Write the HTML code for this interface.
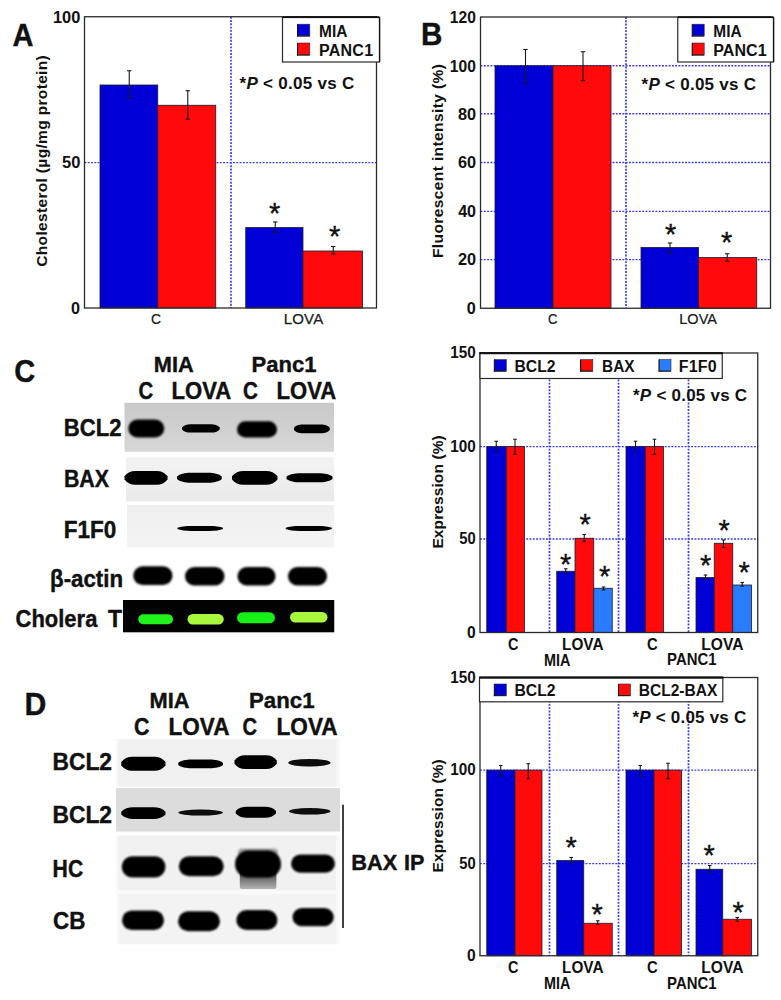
<!DOCTYPE html>
<html><head><meta charset="utf-8"><title>Figure</title>
<style>
html,body{margin:0;padding:0;background:#fff;}
body{width:781px;height:1000px;overflow:hidden;font-family:"Liberation Sans",sans-serif;}
svg{display:block;font-family:"Liberation Sans",sans-serif;}
svg text{font-family:"Liberation Sans",sans-serif;}
</style></head><body>
<svg width="781" height="1000" viewBox="0 0 781 1000">
<defs>
<filter id="b1" x="-20%" y="-50%" width="140%" height="200%"><feGaussianBlur stdDeviation="0.7"/></filter>
<filter id="b2" x="-20%" y="-50%" width="140%" height="200%"><feGaussianBlur stdDeviation="0.95"/></filter>
<filter id="b3" x="-30%" y="-50%" width="160%" height="200%"><feGaussianBlur stdDeviation="3"/></filter>
<filter id="b0" x="-20%" y="-50%" width="140%" height="200%"><feGaussianBlur stdDeviation="0.6"/></filter>
</defs>
<rect x="0" y="0" width="781" height="1000" fill="#ffffff"/>
<rect x="84.50" y="16.75" width="292.00" height="291.25" fill="#fff"/>
<line x1="84.50" y1="162.60" x2="376.50" y2="162.60" stroke="#3a3af0" stroke-width="1.35" stroke-dasharray="1.9 1.4"/>
<line x1="231.00" y1="16.75" x2="231.00" y2="308.00" stroke="#3a3af0" stroke-width="1.7" stroke-dasharray="1.9 1.4"/>
<rect x="100.00" y="85.00" width="57.75" height="223.00" fill="#0000d6" stroke="#1a1a30" stroke-width="0.8"/>
<rect x="157.75" y="105.25" width="58.00" height="202.75" fill="#ff0a0a" stroke="#1a1a30" stroke-width="0.8"/>
<rect x="245.75" y="227.50" width="57.25" height="80.50" fill="#0000d6" stroke="#1a1a30" stroke-width="0.8"/>
<rect x="303.00" y="251.00" width="59.50" height="57.00" fill="#ff0a0a" stroke="#1a1a30" stroke-width="0.8"/>
<rect x="84.50" y="16.75" width="292.00" height="291.25" fill="none" stroke="#2a2a2a" stroke-width="1.3"/>
<line x1="129.25" y1="70.75" x2="129.25" y2="98.00" stroke="#1a1a1a" stroke-width="1.1"/>
<line x1="127.05" y1="70.75" x2="131.45" y2="70.75" stroke="#1a1a1a" stroke-width="1.1"/>
<line x1="127.05" y1="98.00" x2="131.45" y2="98.00" stroke="#1a1a1a" stroke-width="1.1"/>
<line x1="187.75" y1="90.75" x2="187.75" y2="119.25" stroke="#1a1a1a" stroke-width="1.1"/>
<line x1="185.55" y1="90.75" x2="189.95" y2="90.75" stroke="#1a1a1a" stroke-width="1.1"/>
<line x1="185.55" y1="119.25" x2="189.95" y2="119.25" stroke="#1a1a1a" stroke-width="1.1"/>
<line x1="275.25" y1="222.00" x2="275.25" y2="232.50" stroke="#1a1a1a" stroke-width="1.1"/>
<line x1="273.05" y1="222.00" x2="277.45" y2="222.00" stroke="#1a1a1a" stroke-width="1.1"/>
<line x1="273.05" y1="232.50" x2="277.45" y2="232.50" stroke="#1a1a1a" stroke-width="1.1"/>
<line x1="333.25" y1="246.50" x2="333.25" y2="254.00" stroke="#1a1a1a" stroke-width="1.1"/>
<line x1="331.05" y1="246.50" x2="335.45" y2="246.50" stroke="#1a1a1a" stroke-width="1.1"/>
<line x1="331.05" y1="254.00" x2="335.45" y2="254.00" stroke="#1a1a1a" stroke-width="1.1"/>
<text x="268.88" y="222.75" font-size="29" font-weight="400" fill="#111" stroke="#111" stroke-width="0.35">*</text>
<text x="328.88" y="245.75" font-size="29" font-weight="400" fill="#111" stroke="#111" stroke-width="0.35">*</text>
<rect x="282.50" y="17.50" width="97.00" height="44.50" fill="#fff" stroke="#2a2a2a" stroke-width="1.2"/>
<line x1="282.50" y1="17.20" x2="379.50" y2="17.20" stroke="#111" stroke-width="1.8"/>
<line x1="379.60" y1="17.50" x2="379.60" y2="62.00" stroke="#111" stroke-width="1.3"/>
<rect x="297.70" y="24.20" width="12.10" height="11.70" fill="#0000d6" stroke="#2a2a3a" stroke-width="0.6"/>
<line x1="297.50" y1="24.20" x2="297.50" y2="36.50" stroke="#111" stroke-width="1.0"/>
<line x1="297.00" y1="36.10" x2="309.80" y2="36.10" stroke="#111" stroke-width="1.0"/>
<rect x="297.70" y="43.00" width="12.10" height="11.90" fill="#ff0a0a" stroke="#2a2a3a" stroke-width="0.6"/>
<line x1="297.50" y1="43.00" x2="297.50" y2="55.50" stroke="#111" stroke-width="1.0"/>
<line x1="297.00" y1="55.10" x2="309.80" y2="55.10" stroke="#111" stroke-width="1.0"/>
<text transform="translate(320.00 36.70) scale(0.9640 1)" x="-1.00" y="0" font-size="16" font-weight="700" fill="#111">MIA</text>
<text transform="translate(320.00 55.60) scale(1.0000 1)" x="-1.00" y="0" font-size="16" font-weight="700" letter-spacing="0.250" fill="#111">PANC1</text>
<text transform="translate(239.50 89.30) scale(1.0000 1)" x="-0.00" y="0" font-size="17" font-weight="700" letter-spacing="0.288" fill="#111">*<tspan font-style="italic">P</tspan> &lt; 0.05 vs C</text>
<text transform="translate(53.90 22.62) scale(1.0280 1)" x="-1.00" y="0" font-size="16" font-weight="700" fill="#111">100</text>
<text transform="translate(62.60 168.33) scale(1.0303 1)" x="-0.50" y="0" font-size="16" font-weight="700" fill="#111">50</text>
<text transform="translate(71.70 313.82) scale(1.0133 1)" x="-0.75" y="0" font-size="16" font-weight="700" fill="#111">0</text>
<text transform="translate(13.10 46.00) scale(0.9224 1)" x="-0.75" y="0" font-size="31.5" font-weight="700" fill="#111" stroke="#111" stroke-width="0.4">A</text>
<text transform="translate(47.00 266.00) rotate(-90) scale(1.0000 1)" x="-0.75" y="0" font-size="15.5" font-weight="700" letter-spacing="0.337" fill="#111">Cholesterol (µg/mg protein)</text>
<text transform="translate(151.75 324.20) scale(0.9211 1)" x="-0.75" y="0" font-size="15" font-weight="400" fill="#1a1a1a" stroke="#1a1a1a" stroke-width="0.25">C</text>
<text transform="translate(285.00 324.20) scale(1.0000 1)" x="-1.25" y="0" font-size="15" font-weight="400" letter-spacing="0.167" fill="#1a1a1a" stroke="#1a1a1a" stroke-width="0.25">LOVA</text>
<rect x="480.50" y="17.00" width="290.00" height="291.25" fill="#fff"/>
<line x1="480.50" y1="65.75" x2="770.50" y2="65.75" stroke="#3a3af0" stroke-width="1.35" stroke-dasharray="1.9 1.4"/>
<line x1="480.50" y1="113.75" x2="770.50" y2="113.75" stroke="#3a3af0" stroke-width="1.35" stroke-dasharray="1.9 1.4"/>
<line x1="480.50" y1="162.50" x2="770.50" y2="162.50" stroke="#3a3af0" stroke-width="1.35" stroke-dasharray="1.9 1.4"/>
<line x1="480.50" y1="211.40" x2="770.50" y2="211.40" stroke="#3a3af0" stroke-width="1.35" stroke-dasharray="1.9 1.4"/>
<line x1="480.50" y1="259.60" x2="770.50" y2="259.60" stroke="#3a3af0" stroke-width="1.35" stroke-dasharray="1.9 1.4"/>
<line x1="626.00" y1="17.00" x2="626.00" y2="308.25" stroke="#3a3af0" stroke-width="1.7" stroke-dasharray="1.9 1.4"/>
<rect x="495.00" y="65.75" width="58.00" height="242.50" fill="#0000d6" stroke="#1a1a30" stroke-width="0.8"/>
<rect x="553.00" y="65.75" width="58.00" height="242.50" fill="#ff0a0a" stroke="#1a1a30" stroke-width="0.8"/>
<rect x="641.00" y="247.50" width="57.50" height="60.75" fill="#0000d6" stroke="#1a1a30" stroke-width="0.8"/>
<rect x="698.50" y="257.50" width="58.25" height="50.75" fill="#ff0a0a" stroke="#1a1a30" stroke-width="0.8"/>
<rect x="480.50" y="17.00" width="290.00" height="291.25" fill="none" stroke="#2a2a2a" stroke-width="1.3"/>
<line x1="525.50" y1="49.50" x2="525.50" y2="83.00" stroke="#1a1a1a" stroke-width="1.1"/>
<line x1="523.30" y1="49.50" x2="527.70" y2="49.50" stroke="#1a1a1a" stroke-width="1.1"/>
<line x1="523.30" y1="83.00" x2="527.70" y2="83.00" stroke="#1a1a1a" stroke-width="1.1"/>
<line x1="583.00" y1="51.75" x2="583.00" y2="80.50" stroke="#1a1a1a" stroke-width="1.1"/>
<line x1="580.80" y1="51.75" x2="585.20" y2="51.75" stroke="#1a1a1a" stroke-width="1.1"/>
<line x1="580.80" y1="80.50" x2="585.20" y2="80.50" stroke="#1a1a1a" stroke-width="1.1"/>
<line x1="670.00" y1="243.00" x2="670.00" y2="253.25" stroke="#1a1a1a" stroke-width="1.1"/>
<line x1="667.80" y1="243.00" x2="672.20" y2="243.00" stroke="#1a1a1a" stroke-width="1.1"/>
<line x1="667.80" y1="253.25" x2="672.20" y2="253.25" stroke="#1a1a1a" stroke-width="1.1"/>
<line x1="727.25" y1="253.75" x2="727.25" y2="261.25" stroke="#1a1a1a" stroke-width="1.1"/>
<line x1="725.05" y1="253.75" x2="729.45" y2="253.75" stroke="#1a1a1a" stroke-width="1.1"/>
<line x1="725.05" y1="261.25" x2="729.45" y2="261.25" stroke="#1a1a1a" stroke-width="1.1"/>
<text x="664.88" y="243.50" font-size="29" font-weight="400" fill="#111" stroke="#111" stroke-width="0.35">*</text>
<text x="721.12" y="251.75" font-size="29" font-weight="400" fill="#111" stroke="#111" stroke-width="0.35">*</text>
<rect x="677.75" y="17.50" width="95.75" height="44.50" fill="#fff" stroke="#2a2a2a" stroke-width="1.2"/>
<line x1="677.75" y1="17.20" x2="773.50" y2="17.20" stroke="#111" stroke-width="1.8"/>
<line x1="773.60" y1="17.50" x2="773.60" y2="62.00" stroke="#111" stroke-width="1.3"/>
<rect x="692.40" y="24.20" width="11.80" height="11.70" fill="#0000d6" stroke="#2a2a3a" stroke-width="0.6"/>
<line x1="692.20" y1="24.20" x2="692.20" y2="36.50" stroke="#111" stroke-width="1.0"/>
<line x1="691.70" y1="36.10" x2="704.20" y2="36.10" stroke="#111" stroke-width="1.0"/>
<rect x="692.40" y="43.00" width="11.80" height="11.90" fill="#ff0a0a" stroke="#2a2a3a" stroke-width="0.6"/>
<line x1="692.20" y1="43.00" x2="692.20" y2="55.50" stroke="#111" stroke-width="1.0"/>
<line x1="691.70" y1="55.10" x2="704.20" y2="55.10" stroke="#111" stroke-width="1.0"/>
<text transform="translate(714.25 36.70) scale(0.9640 1)" x="-1.00" y="0" font-size="16" font-weight="700" fill="#111">MIA</text>
<text transform="translate(714.25 55.60) scale(1.0000 1)" x="-1.00" y="0" font-size="16" font-weight="700" letter-spacing="0.062" fill="#111">PANC1</text>
<text transform="translate(641.50 90.20) scale(1.0000 1)" x="-0.00" y="0" font-size="17" font-weight="700" letter-spacing="0.269" fill="#111">*<tspan font-style="italic">P</tspan> &lt; 0.05 vs C</text>
<text transform="translate(450.80 22.82) scale(0.9760 1)" x="-1.00" y="0" font-size="16" font-weight="700" fill="#111">120</text>
<text transform="translate(450.80 71.58) scale(0.9760 1)" x="-1.00" y="0" font-size="16" font-weight="700" fill="#111">100</text>
<text transform="translate(458.40 119.58) scale(1.0182 1)" x="-0.50" y="0" font-size="16" font-weight="700" fill="#111">80</text>
<text transform="translate(458.40 168.33) scale(1.0182 1)" x="-0.50" y="0" font-size="16" font-weight="700" fill="#111">60</text>
<text transform="translate(458.40 217.23) scale(1.0030 1)" x="-0.25" y="0" font-size="16" font-weight="700" fill="#111">40</text>
<text transform="translate(458.40 265.43) scale(1.0182 1)" x="-0.50" y="0" font-size="16" font-weight="700" fill="#111">20</text>
<text transform="translate(467.60 314.07) scale(1.0133 1)" x="-0.75" y="0" font-size="16" font-weight="700" fill="#111">0</text>
<text transform="translate(422.80 44.90) scale(0.9403 1)" x="-2.00" y="0" font-size="31.5" font-weight="700" fill="#111" stroke="#111" stroke-width="0.4">B</text>
<text transform="translate(443.20 257.00) rotate(-90) scale(1.0000 1)" x="-1.00" y="0" font-size="15.5" font-weight="700" letter-spacing="0.396" fill="#111">Fluorescent intensity (%)</text>
<text transform="translate(548.75 323.90) scale(0.8684 1)" x="-0.75" y="0" font-size="15" font-weight="400" fill="#1a1a1a" stroke="#1a1a1a" stroke-width="0.25">C</text>
<text transform="translate(680.50 324.20) scale(0.9667 1)" x="-1.25" y="0" font-size="15" font-weight="400" fill="#1a1a1a" stroke="#1a1a1a" stroke-width="0.25">LOVA</text>
<rect x="480.00" y="353.00" width="277.75" height="279.50" fill="#fff"/>
<line x1="480.00" y1="446.60" x2="757.75" y2="446.60" stroke="#3a3af0" stroke-width="1.35" stroke-dasharray="1.9 1.4"/>
<line x1="480.00" y1="539.00" x2="757.75" y2="539.00" stroke="#3a3af0" stroke-width="1.35" stroke-dasharray="1.9 1.4"/>
<line x1="549.50" y1="353.00" x2="549.50" y2="632.50" stroke="#3a3af0" stroke-width="1.7" stroke-dasharray="1.9 1.4"/>
<line x1="618.50" y1="353.00" x2="618.50" y2="632.50" stroke="#3a3af0" stroke-width="1.7" stroke-dasharray="1.9 1.4"/>
<line x1="688.50" y1="353.00" x2="688.50" y2="632.50" stroke="#3a3af0" stroke-width="1.7" stroke-dasharray="1.9 1.4"/>
<rect x="486.75" y="446.60" width="19.50" height="185.90" fill="#0000d6" stroke="#1a1a30" stroke-width="0.8"/>
<rect x="506.25" y="446.60" width="18.25" height="185.90" fill="#ff0a0a" stroke="#1a1a30" stroke-width="0.8"/>
<rect x="556.75" y="571.25" width="18.25" height="61.25" fill="#0000d6" stroke="#1a1a30" stroke-width="0.8"/>
<rect x="575.00" y="538.25" width="18.75" height="94.25" fill="#ff0a0a" stroke="#1a1a30" stroke-width="0.8"/>
<rect x="593.75" y="588.25" width="18.50" height="44.25" fill="#2a7cff" stroke="#1a1a30" stroke-width="0.8"/>
<rect x="626.00" y="446.60" width="19.25" height="185.90" fill="#0000d6" stroke="#1a1a30" stroke-width="0.8"/>
<rect x="645.25" y="446.60" width="18.25" height="185.90" fill="#ff0a0a" stroke="#1a1a30" stroke-width="0.8"/>
<rect x="696.00" y="577.50" width="18.25" height="55.00" fill="#0000d6" stroke="#1a1a30" stroke-width="0.8"/>
<rect x="714.25" y="543.25" width="18.50" height="89.25" fill="#ff0a0a" stroke="#1a1a30" stroke-width="0.8"/>
<rect x="732.75" y="585.00" width="18.75" height="47.50" fill="#2a7cff" stroke="#1a1a30" stroke-width="0.8"/>
<rect x="480.00" y="353.00" width="277.75" height="279.50" fill="none" stroke="#2a2a2a" stroke-width="1.3"/>
<line x1="496.25" y1="441.25" x2="496.25" y2="452.00" stroke="#1a1a1a" stroke-width="1.1"/>
<line x1="494.45" y1="441.25" x2="498.05" y2="441.25" stroke="#1a1a1a" stroke-width="1.1"/>
<line x1="494.45" y1="452.00" x2="498.05" y2="452.00" stroke="#1a1a1a" stroke-width="1.1"/>
<line x1="515.00" y1="439.25" x2="515.00" y2="454.25" stroke="#1a1a1a" stroke-width="1.1"/>
<line x1="513.20" y1="439.25" x2="516.80" y2="439.25" stroke="#1a1a1a" stroke-width="1.1"/>
<line x1="513.20" y1="454.25" x2="516.80" y2="454.25" stroke="#1a1a1a" stroke-width="1.1"/>
<line x1="565.75" y1="568.75" x2="565.75" y2="573.00" stroke="#1a1a1a" stroke-width="1.1"/>
<line x1="563.95" y1="568.75" x2="567.55" y2="568.75" stroke="#1a1a1a" stroke-width="1.1"/>
<line x1="563.95" y1="573.00" x2="567.55" y2="573.00" stroke="#1a1a1a" stroke-width="1.1"/>
<line x1="584.25" y1="534.50" x2="584.25" y2="541.25" stroke="#1a1a1a" stroke-width="1.1"/>
<line x1="582.45" y1="534.50" x2="586.05" y2="534.50" stroke="#1a1a1a" stroke-width="1.1"/>
<line x1="582.45" y1="541.25" x2="586.05" y2="541.25" stroke="#1a1a1a" stroke-width="1.1"/>
<line x1="603.50" y1="587.00" x2="603.50" y2="590.00" stroke="#1a1a1a" stroke-width="1.1"/>
<line x1="601.70" y1="587.00" x2="605.30" y2="587.00" stroke="#1a1a1a" stroke-width="1.1"/>
<line x1="601.70" y1="590.00" x2="605.30" y2="590.00" stroke="#1a1a1a" stroke-width="1.1"/>
<line x1="635.50" y1="441.25" x2="635.50" y2="452.00" stroke="#1a1a1a" stroke-width="1.1"/>
<line x1="633.70" y1="441.25" x2="637.30" y2="441.25" stroke="#1a1a1a" stroke-width="1.1"/>
<line x1="633.70" y1="452.00" x2="637.30" y2="452.00" stroke="#1a1a1a" stroke-width="1.1"/>
<line x1="654.50" y1="439.25" x2="654.50" y2="454.25" stroke="#1a1a1a" stroke-width="1.1"/>
<line x1="652.70" y1="439.25" x2="656.30" y2="439.25" stroke="#1a1a1a" stroke-width="1.1"/>
<line x1="652.70" y1="454.25" x2="656.30" y2="454.25" stroke="#1a1a1a" stroke-width="1.1"/>
<line x1="705.50" y1="575.00" x2="705.50" y2="579.50" stroke="#1a1a1a" stroke-width="1.1"/>
<line x1="703.70" y1="575.00" x2="707.30" y2="575.00" stroke="#1a1a1a" stroke-width="1.1"/>
<line x1="703.70" y1="579.50" x2="707.30" y2="579.50" stroke="#1a1a1a" stroke-width="1.1"/>
<line x1="723.50" y1="540.00" x2="723.50" y2="547.50" stroke="#1a1a1a" stroke-width="1.1"/>
<line x1="721.70" y1="540.00" x2="725.30" y2="540.00" stroke="#1a1a1a" stroke-width="1.1"/>
<line x1="721.70" y1="547.50" x2="725.30" y2="547.50" stroke="#1a1a1a" stroke-width="1.1"/>
<line x1="742.25" y1="582.50" x2="742.25" y2="586.25" stroke="#1a1a1a" stroke-width="1.1"/>
<line x1="740.45" y1="582.50" x2="744.05" y2="582.50" stroke="#1a1a1a" stroke-width="1.1"/>
<line x1="740.45" y1="586.25" x2="744.05" y2="586.25" stroke="#1a1a1a" stroke-width="1.1"/>
<text x="560.12" y="573.50" font-size="29" font-weight="400" fill="#111" stroke="#111" stroke-width="0.35">*</text>
<text x="579.38" y="534.00" font-size="29" font-weight="400" fill="#111" stroke="#111" stroke-width="0.35">*</text>
<text x="599.12" y="586.00" font-size="29" font-weight="400" fill="#111" stroke="#111" stroke-width="0.35">*</text>
<text x="699.88" y="574.75" font-size="29" font-weight="400" fill="#111" stroke="#111" stroke-width="0.35">*</text>
<text x="718.38" y="540.25" font-size="29" font-weight="400" fill="#111" stroke="#111" stroke-width="0.35">*</text>
<text x="738.38" y="581.50" font-size="29" font-weight="400" fill="#111" stroke="#111" stroke-width="0.35">*</text>
<rect x="480.00" y="353.00" width="242.25" height="25.50" fill="#fff" stroke="#2a2a2a" stroke-width="1.2"/>
<line x1="479.40" y1="353.20" x2="722.80" y2="353.20" stroke="#151515" stroke-width="2.2"/>
<rect x="494.50" y="359.60" width="11.80" height="11.40" fill="#0000d6" stroke="#2a2a3a" stroke-width="0.6"/>
<line x1="494.30" y1="359.60" x2="494.30" y2="371.60" stroke="#111" stroke-width="1.0"/>
<line x1="493.80" y1="371.20" x2="506.30" y2="371.20" stroke="#111" stroke-width="1.0"/>
<text transform="translate(515.50 371.70) scale(0.9814 1)" x="-1.00" y="0" font-size="16" font-weight="700" fill="#111">BCL2</text>
<rect x="580.80" y="359.60" width="12.00" height="11.40" fill="#ff0a0a" stroke="#2a2a3a" stroke-width="0.6"/>
<line x1="580.60" y1="359.60" x2="580.60" y2="371.60" stroke="#111" stroke-width="1.0"/>
<line x1="580.10" y1="371.20" x2="592.80" y2="371.20" stroke="#111" stroke-width="1.0"/>
<text transform="translate(603.00 371.70) scale(0.9615 1)" x="-1.00" y="0" font-size="16" font-weight="700" fill="#111">BAX</text>
<rect x="659.20" y="359.60" width="11.80" height="11.40" fill="#2a7cff" stroke="#2a2a3a" stroke-width="0.6"/>
<line x1="659.00" y1="359.60" x2="659.00" y2="371.60" stroke="#111" stroke-width="1.0"/>
<line x1="658.50" y1="371.20" x2="671.00" y2="371.20" stroke="#111" stroke-width="1.0"/>
<text transform="translate(679.75 371.70) scale(1.0000 1)" x="-1.00" y="0" font-size="16" font-weight="700" letter-spacing="0.167" fill="#111">F1F0</text>
<text transform="translate(633.00 400.50) scale(1.0000 1)" x="-0.00" y="0" font-size="17" font-weight="700" letter-spacing="0.231" fill="#111">*<tspan font-style="italic">P</tspan> &lt; 0.05 vs C</text>
<text transform="translate(451.20 358.03) scale(0.9520 1)" x="-1.00" y="0" font-size="16" font-weight="700" fill="#111">150</text>
<text transform="translate(451.20 451.63) scale(0.9520 1)" x="-1.00" y="0" font-size="16" font-weight="700" fill="#111">100</text>
<text transform="translate(459.80 544.02) scale(0.9212 1)" x="-0.50" y="0" font-size="16" font-weight="700" fill="#111">50</text>
<text transform="translate(467.70 637.52) scale(0.9733 1)" x="-0.75" y="0" font-size="16" font-weight="700" fill="#111">0</text>
<text transform="translate(443.30 547.60) rotate(-90) scale(1.0000 1)" x="-1.00" y="0" font-size="15.5" font-weight="700" letter-spacing="0.104" fill="#111">Expression (%)</text>
<text transform="translate(508.75 649.60) scale(0.9024 1)" x="-0.75" y="0" font-size="16" font-weight="700" fill="#111">C</text>
<text transform="translate(563.00 649.60) scale(0.9581 1)" x="-1.00" y="0" font-size="16" font-weight="700" fill="#111">LOVA</text>
<text transform="translate(647.75 649.60) scale(0.9268 1)" x="-0.75" y="0" font-size="16" font-weight="700" fill="#111">C</text>
<text transform="translate(702.25 649.60) scale(0.9760 1)" x="-1.00" y="0" font-size="16" font-weight="700" fill="#111">LOVA</text>
<text transform="translate(545.00 665.60) scale(0.9009 1)" x="-1.00" y="0" font-size="16" font-weight="700" fill="#111">MIA</text>
<text transform="translate(668.00 665.40) scale(0.9320 1)" x="-1.00" y="0" font-size="16" font-weight="700" fill="#111">PANC1</text>
<rect x="480.00" y="677.50" width="277.75" height="278.25" fill="#fff"/>
<line x1="480.00" y1="770.10" x2="757.75" y2="770.10" stroke="#3a3af0" stroke-width="1.35" stroke-dasharray="1.9 1.4"/>
<line x1="480.00" y1="863.60" x2="757.75" y2="863.60" stroke="#3a3af0" stroke-width="1.35" stroke-dasharray="1.9 1.4"/>
<line x1="549.50" y1="677.50" x2="549.50" y2="955.75" stroke="#3a3af0" stroke-width="1.7" stroke-dasharray="1.9 1.4"/>
<line x1="618.50" y1="677.50" x2="618.50" y2="955.75" stroke="#3a3af0" stroke-width="1.7" stroke-dasharray="1.9 1.4"/>
<line x1="688.50" y1="677.50" x2="688.50" y2="955.75" stroke="#3a3af0" stroke-width="1.7" stroke-dasharray="1.9 1.4"/>
<rect x="486.75" y="770.10" width="28.25" height="185.65" fill="#0000d6" stroke="#1a1a30" stroke-width="0.8"/>
<rect x="515.00" y="770.10" width="27.00" height="185.65" fill="#ff0a0a" stroke="#1a1a30" stroke-width="0.8"/>
<rect x="556.75" y="860.50" width="27.00" height="95.25" fill="#0000d6" stroke="#1a1a30" stroke-width="0.8"/>
<rect x="583.75" y="923.25" width="28.50" height="32.50" fill="#ff0a0a" stroke="#1a1a30" stroke-width="0.8"/>
<rect x="626.00" y="770.10" width="28.00" height="185.65" fill="#0000d6" stroke="#1a1a30" stroke-width="0.8"/>
<rect x="654.00" y="770.10" width="27.50" height="185.65" fill="#ff0a0a" stroke="#1a1a30" stroke-width="0.8"/>
<rect x="696.00" y="869.25" width="26.75" height="86.50" fill="#0000d6" stroke="#1a1a30" stroke-width="0.8"/>
<rect x="722.75" y="919.25" width="28.75" height="36.50" fill="#ff0a0a" stroke="#1a1a30" stroke-width="0.8"/>
<rect x="480.00" y="677.50" width="277.75" height="278.25" fill="none" stroke="#2a2a2a" stroke-width="1.3"/>
<line x1="500.75" y1="765.50" x2="500.75" y2="776.25" stroke="#1a1a1a" stroke-width="1.1"/>
<line x1="498.95" y1="765.50" x2="502.55" y2="765.50" stroke="#1a1a1a" stroke-width="1.1"/>
<line x1="498.95" y1="776.25" x2="502.55" y2="776.25" stroke="#1a1a1a" stroke-width="1.1"/>
<line x1="528.25" y1="763.75" x2="528.25" y2="778.75" stroke="#1a1a1a" stroke-width="1.1"/>
<line x1="526.45" y1="763.75" x2="530.05" y2="763.75" stroke="#1a1a1a" stroke-width="1.1"/>
<line x1="526.45" y1="778.75" x2="530.05" y2="778.75" stroke="#1a1a1a" stroke-width="1.1"/>
<line x1="571.25" y1="857.50" x2="571.25" y2="863.75" stroke="#1a1a1a" stroke-width="1.1"/>
<line x1="569.45" y1="857.50" x2="573.05" y2="857.50" stroke="#1a1a1a" stroke-width="1.1"/>
<line x1="569.45" y1="863.75" x2="573.05" y2="863.75" stroke="#1a1a1a" stroke-width="1.1"/>
<line x1="597.75" y1="920.75" x2="597.75" y2="924.25" stroke="#1a1a1a" stroke-width="1.1"/>
<line x1="595.95" y1="920.75" x2="599.55" y2="920.75" stroke="#1a1a1a" stroke-width="1.1"/>
<line x1="595.95" y1="924.25" x2="599.55" y2="924.25" stroke="#1a1a1a" stroke-width="1.1"/>
<line x1="640.25" y1="765.50" x2="640.25" y2="776.25" stroke="#1a1a1a" stroke-width="1.1"/>
<line x1="638.45" y1="765.50" x2="642.05" y2="765.50" stroke="#1a1a1a" stroke-width="1.1"/>
<line x1="638.45" y1="776.25" x2="642.05" y2="776.25" stroke="#1a1a1a" stroke-width="1.1"/>
<line x1="668.00" y1="763.25" x2="668.00" y2="778.75" stroke="#1a1a1a" stroke-width="1.1"/>
<line x1="666.20" y1="763.25" x2="669.80" y2="763.25" stroke="#1a1a1a" stroke-width="1.1"/>
<line x1="666.20" y1="778.75" x2="669.80" y2="778.75" stroke="#1a1a1a" stroke-width="1.1"/>
<line x1="709.75" y1="865.50" x2="709.75" y2="872.50" stroke="#1a1a1a" stroke-width="1.1"/>
<line x1="707.95" y1="865.50" x2="711.55" y2="865.50" stroke="#1a1a1a" stroke-width="1.1"/>
<line x1="707.95" y1="872.50" x2="711.55" y2="872.50" stroke="#1a1a1a" stroke-width="1.1"/>
<line x1="737.25" y1="917.50" x2="737.25" y2="921.25" stroke="#1a1a1a" stroke-width="1.1"/>
<line x1="735.45" y1="917.50" x2="739.05" y2="917.50" stroke="#1a1a1a" stroke-width="1.1"/>
<line x1="735.45" y1="921.25" x2="739.05" y2="921.25" stroke="#1a1a1a" stroke-width="1.1"/>
<text x="565.62" y="856.50" font-size="29" font-weight="400" fill="#111" stroke="#111" stroke-width="0.35">*</text>
<text x="591.62" y="924.00" font-size="29" font-weight="400" fill="#111" stroke="#111" stroke-width="0.35">*</text>
<text x="703.38" y="864.75" font-size="29" font-weight="400" fill="#111" stroke="#111" stroke-width="0.35">*</text>
<text x="732.38" y="921.50" font-size="29" font-weight="400" fill="#111" stroke="#111" stroke-width="0.35">*</text>
<rect x="479.50" y="677.30" width="243.30" height="24.50" fill="#fff" stroke="#2a2a2a" stroke-width="1.2"/>
<line x1="479.40" y1="677.60" x2="723.30" y2="677.60" stroke="#151515" stroke-width="2.2"/>
<rect x="494.50" y="684.00" width="11.80" height="11.50" fill="#0000d6" stroke="#2a2a3a" stroke-width="0.6"/>
<line x1="494.30" y1="684.00" x2="494.30" y2="696.10" stroke="#111" stroke-width="1.0"/>
<line x1="493.80" y1="695.70" x2="506.30" y2="695.70" stroke="#111" stroke-width="1.0"/>
<text transform="translate(515.50 696.20) scale(0.9814 1)" x="-1.00" y="0" font-size="16" font-weight="700" fill="#111">BCL2</text>
<rect x="618.70" y="684.00" width="11.80" height="11.50" fill="#ff0a0a" stroke="#2a2a3a" stroke-width="0.6"/>
<line x1="618.50" y1="684.00" x2="618.50" y2="696.10" stroke="#111" stroke-width="1.0"/>
<line x1="618.00" y1="695.70" x2="630.50" y2="695.70" stroke="#111" stroke-width="1.0"/>
<text transform="translate(639.75 696.20) scale(0.9718 1)" x="-1.00" y="0" font-size="16" font-weight="700" fill="#111">BCL2-BAX</text>
<text transform="translate(632.50 723.30) scale(1.0000 1)" x="-0.00" y="0" font-size="17" font-weight="700" letter-spacing="0.200" fill="#111">*<tspan font-style="italic">P</tspan> &lt; 0.05 vs C</text>
<text transform="translate(451.20 682.72) scale(0.9520 1)" x="-1.00" y="0" font-size="16" font-weight="700" fill="#111">150</text>
<text transform="translate(451.20 775.32) scale(0.9520 1)" x="-1.00" y="0" font-size="16" font-weight="700" fill="#111">100</text>
<text transform="translate(459.80 868.82) scale(0.9212 1)" x="-0.50" y="0" font-size="16" font-weight="700" fill="#111">50</text>
<text transform="translate(467.70 960.97) scale(0.9733 1)" x="-0.75" y="0" font-size="16" font-weight="700" fill="#111">0</text>
<text transform="translate(443.30 871.40) rotate(-90) scale(1.0000 1)" x="-1.00" y="0" font-size="15.5" font-weight="700" letter-spacing="0.088" fill="#111">Expression (%)</text>
<text transform="translate(508.75 972.80) scale(0.9024 1)" x="-0.75" y="0" font-size="16" font-weight="700" fill="#111">C</text>
<text transform="translate(563.00 972.80) scale(0.9581 1)" x="-1.00" y="0" font-size="16" font-weight="700" fill="#111">LOVA</text>
<text transform="translate(647.75 972.80) scale(0.9268 1)" x="-0.75" y="0" font-size="16" font-weight="700" fill="#111">C</text>
<text transform="translate(702.25 972.80) scale(0.9760 1)" x="-1.00" y="0" font-size="16" font-weight="700" fill="#111">LOVA</text>
<text transform="translate(545.00 989.20) scale(0.9009 1)" x="-1.00" y="0" font-size="16" font-weight="700" fill="#111">MIA</text>
<text transform="translate(668.00 989.00) scale(0.9320 1)" x="-1.00" y="0" font-size="16" font-weight="700" fill="#111">PANC1</text>
<text transform="translate(15.40 381.70) scale(0.9220 1)" x="-1.25" y="0" font-size="31.5" font-weight="700" fill="#111" stroke="#111" stroke-width="0.4">C</text>
<text transform="translate(155.30 371.80) scale(0.9667 1)" x="-1.50" y="0" font-size="22.5" font-weight="700" fill="#111" stroke="#111" stroke-width="0.4">MIA</text>
<text transform="translate(253.00 371.80) scale(0.9805 1)" x="-1.50" y="0" font-size="22.5" font-weight="700" fill="#111" stroke="#111" stroke-width="0.4">Panc1</text>
<text transform="translate(139.50 399.00) scale(0.8867 1)" x="-1.00" y="0" font-size="23" font-weight="700" fill="#111" stroke="#111" stroke-width="0.4">C</text>
<text transform="translate(173.00 399.00) scale(0.9600 1)" x="-1.50" y="0" font-size="23" font-weight="700" fill="#111" stroke="#111" stroke-width="0.4">LOVA</text>
<text transform="translate(244.00 399.00) scale(0.9000 1)" x="-1.00" y="0" font-size="23" font-weight="700" fill="#111" stroke="#111" stroke-width="0.4">C</text>
<text transform="translate(278.00 399.00) scale(0.9583 1)" x="-1.50" y="0" font-size="23" font-weight="700" fill="#111" stroke="#111" stroke-width="0.4">LOVA</text>
<linearGradient id="gC1" x1="0" y1="0" x2="0" y2="1"><stop offset="0" stop-color="#c9c9c9"/><stop offset="1" stop-color="#d7d7d7"/></linearGradient>
<rect x="124.50" y="402.80" width="209.50" height="49.00" fill="url(#gC1)"/>
<linearGradient id="gC2" x1="0" y1="0" x2="0" y2="1"><stop offset="0" stop-color="#f3f3f3"/><stop offset="1" stop-color="#e9e9e9"/></linearGradient>
<rect x="126.00" y="457.30" width="208.00" height="44.10" fill="url(#gC2)"/>
<linearGradient id="gC3" x1="0" y1="0" x2="0" y2="1"><stop offset="0" stop-color="#efefef"/><stop offset="1" stop-color="#f4f4f4"/></linearGradient>
<rect x="127.00" y="505.00" width="207.00" height="42.50" fill="url(#gC3)"/>
<rect x="123.00" y="600.00" width="211.25" height="32.30" fill="#020202"/>
<rect x="128.25" y="419.50" width="36.00" height="18.00" rx="9.00" ry="9.00" fill="#050505" filter="url(#b2)"/>
<path d="M182.00,427.39 C184.26,425.21 186.98,424.20 190.31,424.20 L211.44,424.20 C214.77,424.20 217.49,425.21 219.75,427.39 L219.75,429.41 C217.49,431.59 214.77,432.60 211.44,432.60 L190.31,432.60 C186.98,432.60 184.26,431.59 182.00,429.41 Z" fill="#060606" filter="url(#b1)"/>
<rect x="237.00" y="421.25" width="40.00" height="16.25" rx="8.12" ry="8.12" fill="#050505" filter="url(#b2)"/>
<path d="M294.00,427.87 C296.14,425.63 298.72,424.60 301.87,424.60 L321.88,424.60 C325.03,424.60 327.61,425.63 329.75,427.87 L329.75,429.93 C327.61,432.17 325.03,433.20 321.88,433.20 L301.87,433.20 C298.72,433.20 296.14,432.17 294.00,429.93 Z" fill="#060606" filter="url(#b1)"/>
<path d="M124.50,476.21 C127.08,472.64 130.95,471.00 135.25,471.00 L156.75,471.00 C161.05,471.00 164.92,472.64 167.50,476.21 L167.50,479.49 C164.92,483.06 161.05,484.70 156.75,484.70 L135.25,484.70 C130.95,484.70 127.08,483.06 124.50,479.49 Z" fill="#060606" filter="url(#b1)"/>
<path d="M177.00,476.60 C179.69,474.00 185.06,472.80 190.43,472.80 L208.32,472.80 C213.69,472.80 219.06,474.00 221.75,476.60 L221.75,479.00 C219.06,481.60 213.69,482.80 208.32,482.80 L190.43,482.80 C185.06,482.80 179.69,481.60 177.00,479.00 Z" fill="#060606" filter="url(#b1)"/>
<path d="M232.00,476.21 C234.73,472.64 238.82,471.00 243.38,471.00 L266.12,471.00 C270.68,471.00 274.77,472.64 277.50,476.21 L277.50,479.49 C274.77,483.06 270.68,484.70 266.12,484.70 L243.38,484.70 C238.82,484.70 234.73,483.06 232.00,479.49 Z" fill="#060606" filter="url(#b1)"/>
<path d="M286.50,476.72 C289.26,474.38 294.78,473.30 300.30,473.30 L318.70,473.30 C324.22,473.30 329.74,474.38 332.50,476.72 L332.50,478.88 C329.74,481.22 324.22,482.30 318.70,482.30 L300.30,482.30 C294.78,482.30 289.26,481.22 286.50,478.88 Z" fill="#060606" filter="url(#b1)"/>
<path d="M177.50,527.86 C180.23,526.59 185.69,526.00 191.15,526.00 L209.35,526.00 C214.81,526.00 220.27,526.59 223.00,527.86 L223.00,529.04 C220.27,530.31 214.81,530.90 209.35,530.90 L191.15,530.90 C185.69,530.90 180.23,530.31 177.50,529.04 Z" fill="#060606" filter="url(#b0)"/>
<path d="M285.75,527.86 C288.51,526.59 294.03,526.00 299.55,526.00 L317.95,526.00 C323.47,526.00 328.99,526.59 331.75,527.86 L331.75,529.04 C328.99,530.31 323.47,530.90 317.95,530.90 L299.55,530.90 C294.03,530.90 288.51,530.31 285.75,529.04 Z" fill="#060606" filter="url(#b0)"/>
<rect x="133.25" y="566.25" width="39.25" height="18.75" rx="9.38" ry="9.38" fill="#050505" filter="url(#b2)"/>
<rect x="185.00" y="567.00" width="39.50" height="18.50" rx="9.25" ry="9.25" fill="#050505" filter="url(#b2)"/>
<rect x="237.50" y="567.00" width="38.00" height="18.50" rx="9.25" ry="9.25" fill="#050505" filter="url(#b2)"/>
<rect x="288.00" y="567.00" width="39.00" height="18.50" rx="9.25" ry="9.25" fill="#050505" filter="url(#b2)"/>
<rect x="138.25" y="614.25" width="34.75" height="10.00" rx="5.00" ry="5.00" fill="#22f21e" filter="url(#b1)"/>
<rect x="187.50" y="614.00" width="36.25" height="10.60" rx="5.30" ry="5.30" fill="#a8f83c" filter="url(#b1)"/>
<rect x="237.00" y="612.30" width="38.00" height="11.00" rx="5.50" ry="5.50" fill="#12f012" filter="url(#b1)"/>
<rect x="290.00" y="612.00" width="37.50" height="10.60" rx="5.30" ry="5.30" fill="#a8f83c" filter="url(#b1)"/>
<text transform="translate(65.30 435.60) scale(0.9610 1)" x="-1.50" y="0" font-size="23" font-weight="700" fill="#111" stroke="#111" stroke-width="0.4">BCL2</text>
<text transform="translate(65.30 487.00) scale(0.9294 1)" x="-1.50" y="0" font-size="23" font-weight="700" fill="#111" stroke="#111" stroke-width="0.4">BAX</text>
<text transform="translate(65.30 538.25) scale(0.9795 1)" x="-1.50" y="0" font-size="23" font-weight="700" fill="#111" stroke="#111" stroke-width="0.4">F1F0</text>
<text transform="translate(51.50 586.75) scale(0.9690 1)" x="-1.50" y="0" font-size="23" font-weight="700" fill="#111" stroke="#111" stroke-width="0.4">β-actin</text>
<text transform="translate(16.50 626.60) scale(0.9558 1)" x="-1.00" y="0" font-size="23" font-weight="700" fill="#111" stroke="#111" stroke-width="0.4">Cholera</text>
<text transform="translate(108.30 626.60) scale(0.9963 1)" x="-0.25" y="0" font-size="23" font-weight="700" fill="#111" stroke="#111" stroke-width="0.4">T</text>
<text transform="translate(26.50 714.90) scale(0.9590 1)" x="-2.00" y="0" font-size="31.5" font-weight="700" fill="#111" stroke="#111" stroke-width="0.4">D</text>
<text transform="translate(151.00 707.50) scale(0.9692 1)" x="-1.50" y="0" font-size="22.5" font-weight="700" fill="#111" stroke="#111" stroke-width="0.4">MIA</text>
<text transform="translate(250.50 707.50) scale(0.9883 1)" x="-1.50" y="0" font-size="22.5" font-weight="700" fill="#111" stroke="#111" stroke-width="0.4">Panc1</text>
<text transform="translate(135.00 735.00) scale(0.9333 1)" x="-1.00" y="0" font-size="23" font-weight="700" fill="#111" stroke="#111" stroke-width="0.4">C</text>
<text transform="translate(170.00 735.20) scale(0.9792 1)" x="-1.50" y="0" font-size="23" font-weight="700" fill="#111" stroke="#111" stroke-width="0.4">LOVA</text>
<text transform="translate(243.50 735.00) scale(0.8800 1)" x="-1.00" y="0" font-size="23" font-weight="700" fill="#111" stroke="#111" stroke-width="0.4">C</text>
<text transform="translate(278.00 735.20) scale(0.9833 1)" x="-1.50" y="0" font-size="23" font-weight="700" fill="#111" stroke="#111" stroke-width="0.4">LOVA</text>
<rect x="115.80" y="739.25" width="224.20" height="47.25" fill="#f8f8f8"/>
<rect x="118.50" y="739.25" width="218.00" height="47.25" fill="#f0f0f0"/>
<rect x="116.00" y="788.00" width="224.00" height="43.50" fill="#dcdcdc"/>
<rect x="115.80" y="835.50" width="224.20" height="54.50" fill="#f9f9f9"/>
<rect x="118.50" y="835.50" width="218.00" height="54.50" fill="#f1f1f1"/>
<rect x="115.80" y="890.00" width="224.20" height="54.50" fill="#fafafa"/>
<rect x="118.50" y="894.20" width="218.00" height="49.60" fill="#f3f3f3"/>
<path d="M121.25,762.08 C123.91,758.47 127.89,756.80 132.31,756.80 L154.44,756.80 C158.86,756.80 162.84,758.47 165.50,762.08 L165.50,765.42 C162.84,769.03 158.86,770.70 154.44,770.70 L132.31,770.70 C127.89,770.70 123.91,769.03 121.25,765.42 Z" fill="#060606" filter="url(#b1)"/>
<path d="M178.25,762.81 C180.94,760.54 186.31,759.50 191.68,759.50 L209.57,759.50 C214.94,759.50 220.31,760.54 223.00,762.81 L223.00,764.89 C220.31,767.16 214.94,768.20 209.57,768.20 L191.68,768.20 C186.31,768.20 180.94,767.16 178.25,764.89 Z" fill="#060606" filter="url(#b1)"/>
<path d="M234.50,760.51 C237.03,756.94 240.84,755.30 245.06,755.30 L266.19,755.30 C270.41,755.30 274.21,756.94 276.75,760.51 L276.75,763.79 C274.21,767.36 270.41,769.00 266.19,769.00 L245.06,769.00 C240.84,769.00 237.03,767.36 234.50,763.79 Z" fill="#060606" filter="url(#b1)"/>
<ellipse cx="309.38" cy="762.80" rx="21.12" ry="3.80" fill="#080808" filter="url(#b0)"/>
<path d="M121.25,811.75 C123.91,808.70 128.42,807.30 133.20,807.30 L153.55,807.30 C158.33,807.30 162.84,808.70 165.50,811.75 L165.50,814.55 C162.84,817.60 158.33,819.00 153.55,819.00 L133.20,819.00 C128.42,819.00 123.91,817.60 121.25,814.55 Z" fill="#060606" filter="url(#b1)"/>
<ellipse cx="200.62" cy="812.60" rx="22.38" ry="3.00" fill="#080808" filter="url(#b0)"/>
<path d="M235.75,810.94 C238.16,808.11 242.27,806.80 246.62,806.80 L265.13,806.80 C269.48,806.80 273.58,808.11 276.00,810.94 L276.00,813.56 C273.58,816.39 269.48,817.70 265.13,817.70 L246.62,817.70 C242.27,817.70 238.16,816.39 235.75,813.56 Z" fill="#060606" filter="url(#b1)"/>
<ellipse cx="309.75" cy="811.30" rx="20.75" ry="3.30" fill="#080808" filter="url(#b0)"/>
<rect x="120.15" y="854.65" width="46.95" height="24.45" rx="12.22" ry="12.22" fill="#fff" opacity="0.85" filter="url(#b2)"/>
<rect x="121.75" y="856.25" width="43.75" height="21.25" rx="10.62" ry="10.62" fill="#050505" filter="url(#b2)"/>
<rect x="177.15" y="854.65" width="48.20" height="23.20" rx="11.60" ry="11.60" fill="#fff" opacity="0.85" filter="url(#b2)"/>
<rect x="178.75" y="856.25" width="45.00" height="20.00" rx="10.00" ry="10.00" fill="#050505" filter="url(#b2)"/>
<linearGradient id="gSm" x1="0" y1="0" x2="0" y2="1"><stop offset="0" stop-color="#2a2a2a"/><stop offset="0.5" stop-color="#707070"/><stop offset="1" stop-color="#b4b4b4"/></linearGradient>
<rect x="239.8" y="868" width="36.6" height="21" rx="2" fill="url(#gSm)" filter="url(#b1)"/>
<rect x="238" y="848.5" width="40" height="8" rx="4" fill="#555" opacity="0.5" filter="url(#b2)"/>
<rect x="235.00" y="850.50" width="46.00" height="27.00" rx="13.00" ry="13.50" fill="#050505" filter="url(#b2)"/>
<rect x="289.40" y="852.90" width="47.20" height="21.50" rx="10.75" ry="10.75" fill="#fff" opacity="0.85" filter="url(#b2)"/>
<rect x="291.00" y="854.50" width="44.00" height="18.30" rx="9.15" ry="9.15" fill="#050505" filter="url(#b2)"/>
<rect x="120.40" y="908.90" width="45.20" height="22.70" rx="11.35" ry="11.35" fill="#fff" opacity="0.85" filter="url(#b2)"/>
<rect x="122.00" y="910.50" width="42.00" height="19.50" rx="9.75" ry="9.75" fill="#050505" filter="url(#b2)"/>
<rect x="176.40" y="909.65" width="45.20" height="23.20" rx="11.60" ry="11.60" fill="#fff" opacity="0.85" filter="url(#b2)"/>
<rect x="178.00" y="911.25" width="42.00" height="20.00" rx="10.00" ry="10.00" fill="#050505" filter="url(#b2)"/>
<rect x="234.65" y="908.40" width="44.45" height="23.20" rx="11.60" ry="11.60" fill="#fff" opacity="0.85" filter="url(#b2)"/>
<rect x="236.25" y="910.00" width="41.25" height="20.00" rx="10.00" ry="10.00" fill="#050505" filter="url(#b2)"/>
<rect x="290.90" y="906.40" width="44.45" height="21.45" rx="10.72" ry="10.72" fill="#fff" opacity="0.85" filter="url(#b2)"/>
<rect x="292.50" y="908.00" width="41.25" height="18.25" rx="9.12" ry="9.12" fill="#050505" filter="url(#b2)"/>
<text transform="translate(54.00 770.00) scale(0.9913 1)" x="-1.50" y="0" font-size="23" font-weight="700" fill="#111" stroke="#111" stroke-width="0.4">BCL2</text>
<text transform="translate(54.00 822.50) scale(0.9913 1)" x="-1.50" y="0" font-size="23" font-weight="700" fill="#111" stroke="#111" stroke-width="0.4">BCL2</text>
<text transform="translate(54.00 877.00) scale(0.9194 1)" x="-1.50" y="0" font-size="23" font-weight="700" fill="#111" stroke="#111" stroke-width="0.4">HC</text>
<text transform="translate(54.00 928.75) scale(0.9760 1)" x="-1.00" y="0" font-size="23" font-weight="700" fill="#111" stroke="#111" stroke-width="0.4">CB</text>
<line x1="343.00" y1="804.70" x2="343.00" y2="928.00" stroke="#111" stroke-width="1.6"/>
<text transform="translate(352.70 870.30) scale(0.9899 1)" x="-1.50" y="0" font-size="22" font-weight="700" fill="#111" stroke="#111" stroke-width="0.4">BAX</text>
<text transform="translate(405.50 870.30) scale(0.9838 1)" x="-1.50" y="0" font-size="22" font-weight="700" fill="#111" stroke="#111" stroke-width="0.4">IP</text>
</svg>
</body></html>
